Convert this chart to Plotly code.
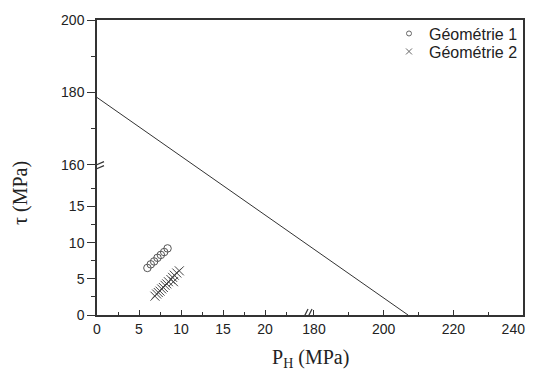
import plotly.graph_objects as go

# ---------------- data ----------------
geo1_p = [6.0, 6.4, 6.8, 7.2, 7.6, 8.0, 8.4]
geo1_tau = [6.5, 7.0, 7.4, 7.9, 8.3, 8.7, 9.2]

geo2_p = [6.9, 7.1, 7.3, 7.5, 7.7, 7.9, 8.1, 8.3, 8.5, 8.8, 9.0, 9.2, 9.5, 9.8, 9.1]
geo2_tau = [2.6, 2.9, 3.1, 3.3, 3.6, 3.8, 4.1, 4.3, 4.6, 4.9, 5.2, 5.5, 5.8, 6.1, 4.6]

line_p = [0, 207]
line_tau = [178.6, 0]

x_major = [0, 5, 10, 15, 20, 180, 200, 220, 240]
x_minor = [2.5, 7.5, 12.5, 17.5, 22.5, 190, 210, 230]
y_major = [0, 5, 10, 15, 160, 180, 200]
y_minor = [2.5, 7.5, 12.5, 17.5, 170, 190]

# ---------------- broken-axis transforms ----------------
XL_MAX, XR_MIN, XR_K, X_MAX = 25.0, 178.0, 0.4147, 240.0
YL_MAX, YU_MIN, YU_K, Y_MAX = 20.5, 159.5, 0.5, 200.0


def tx(p):
    return p if p <= XL_MAX else XL_MAX + (p - XR_MIN) * XR_K


def ty(t):
    return t if t <= YL_MAX else YL_MAX + (t - YU_MIN) * YU_K


def fmt(v):
    return str(int(v)) if float(v).is_integer() else str(v)


# last x label is padded so it stays inside the page edge
x_ticktext = [fmt(v) for v in x_major]
x_ticktext[-1] = x_ticktext[-1] + "\u00a0" * 5

AX = "#333333"
fig = go.Figure()

fig.add_trace(go.Scatter(
    x=[tx(v) for v in line_p], y=[ty(v) for v in line_tau], mode="lines",
    line=dict(color="#333333", width=1), showlegend=False, hoverinfo="skip"))

fig.add_trace(go.Scatter(
    x=[tx(v) for v in geo1_p], y=[ty(v) for v in geo1_tau], mode="markers",
    marker=dict(symbol="circle-open", size=7.5, color="#555555", line=dict(width=1)),
    showlegend=False))
fig.add_trace(go.Scatter(
    x=[tx(v) for v in geo2_p], y=[ty(v) for v in geo2_tau], mode="markers",
    marker=dict(symbol="x-thin-open", size=9, color="#444444", line=dict(width=1)),
    showlegend=False))

# legend entries with smaller symbols, each in its own legend for tight spacing
fig.add_trace(go.Scatter(x=[None], y=[None], mode="markers", name="Géométrie 1",
                         legend="legend",
                         marker=dict(symbol="circle-open", size=5, color="#666666",
                                     line=dict(width=1))))
fig.add_trace(go.Scatter(x=[None], y=[None], mode="markers", name="Géométrie 2",
                         legend="legend2",
                         marker=dict(symbol="x-thin-open", size=6, color="#666666",
                                     line=dict(width=1))))

font_ticks = dict(family="Liberation Sans, Arial", size=14, color="#222222")

fig.update_xaxes(
    range=[0, tx(X_MAX)], tickmode="array",
    tickvals=[tx(v) for v in x_major], ticktext=x_ticktext,
    ticks="inside", ticklen=5, tickwidth=1, tickcolor=AX,
    minor=dict(tickmode="array", tickvals=[tx(v) for v in x_minor],
               ticks="inside", ticklen=3, tickwidth=1, tickcolor=AX),
    showline=True, linecolor=AX, linewidth=1.5, mirror=True,
    showgrid=False, zeroline=False, tickfont=font_ticks,
    automargin=False, ticklabeloverflow="allow")

fig.update_yaxes(
    range=[0, ty(Y_MAX)], tickmode="array",
    tickvals=[ty(v) for v in y_major], ticktext=[fmt(v) for v in y_major],
    ticks="outside", ticklen=8, tickwidth=1, tickcolor=AX,
    minor=dict(tickmode="array", tickvals=[ty(v) for v in y_minor],
               ticks="outside", ticklen=4, tickwidth=1, tickcolor=AX),
    showline=True, linecolor=AX, linewidth=1.5, mirror=True,
    showgrid=False, zeroline=False, tickfont=font_ticks,
    automargin=False, ticklabeloverflow="allow")

# break marks (//) on both axes
shapes = []
xb = tx(XL_MAX)
shapes.append(dict(type="line", xref="x", yref="y", xsizemode="pixel", ysizemode="pixel",
                   xanchor=xb, yanchor=0, x0=-2, x1=2, y0=0, y1=0,
                   line=dict(color="white", width=3)))
for dx in (-2, 2):
    shapes.append(dict(type="line", xref="x", yref="y", xsizemode="pixel", ysizemode="pixel",
                       xanchor=xb, yanchor=0, x0=dx - 3, x1=dx + 3, y0=-6, y1=6,
                       line=dict(color=AX, width=1.2)))
yb = ty(YL_MAX)
shapes.append(dict(type="line", xref="x", yref="y", xsizemode="pixel", ysizemode="pixel",
                   xanchor=0, yanchor=yb, x0=0, x1=0, y0=-2, y1=2,
                   line=dict(color="white", width=3)))
for dy in (-2, 2):
    shapes.append(dict(type="line", xref="x", yref="y", xsizemode="pixel", ysizemode="pixel",
                       xanchor=0, yanchor=yb, x0=-7, x1=7, y0=dy - 3, y1=dy + 3,
                       line=dict(color=AX, width=1.2)))

legend_font = dict(family="Liberation Sans, Arial", size=16, color="#222222")

fig.update_layout(
    width=527, height=362,
    margin=dict(l=89, r=12, t=12, b=55, autoexpand=False),
    paper_bgcolor="white", plot_bgcolor="white",
    shapes=shapes,
    legend=dict(x=1, y=0.954, xanchor="right", yanchor="middle",
                font=legend_font, bgcolor="rgba(0,0,0,0)", itemwidth=30),
    legend2=dict(x=1, y=0.893, xanchor="right", yanchor="middle",
                 font=legend_font, bgcolor="rgba(0,0,0,0)", itemwidth=30),
    annotations=[
        dict(text="τ (MPa)", xref="paper", yref="paper", x=-0.178, y=0.414,
             textangle=-90, showarrow=False, xanchor="center", yanchor="middle",
             font=dict(family="Liberation Serif, Times New Roman", size=20, color="#222222")),
        dict(text="P<sub>H</sub> (MPa)", xref="paper", yref="paper", x=0.502, y=-0.146,
             showarrow=False, xanchor="center", yanchor="middle",
             font=dict(family="Liberation Serif, Times New Roman", size=20, color="#222222")),
    ],
)

fig.write_html("out.html")
